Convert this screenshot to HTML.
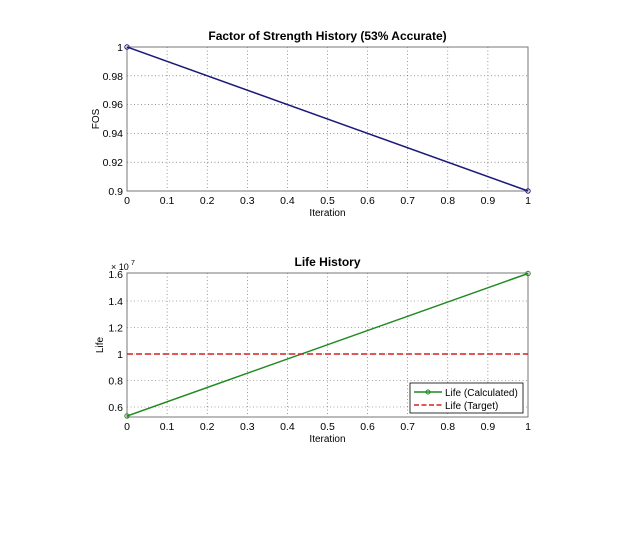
<!DOCTYPE html>
<html><head><style>
body{margin:0;background:#fff;}
svg text{font-family:"Liberation Sans",Arial,sans-serif;}
</style></head><body>
<svg width="636" height="549" viewBox="0 0 636 549" xmlns="http://www.w3.org/2000/svg">
<rect width="636" height="549" fill="#fff"/>
<!-- Top plot -->
<g font-size="10.5" fill="#000">
<g stroke="#555" stroke-width="0.6" stroke-dasharray="1,2.5">
<line x1="167.1" y1="47" x2="167.1" y2="191"/><line x1="207.2" y1="47" x2="207.2" y2="191"/>
<line x1="247.3" y1="47" x2="247.3" y2="191"/><line x1="287.4" y1="47" x2="287.4" y2="191"/>
<line x1="327.5" y1="47" x2="327.5" y2="191"/><line x1="367.6" y1="47" x2="367.6" y2="191"/>
<line x1="407.7" y1="47" x2="407.7" y2="191"/><line x1="447.8" y1="47" x2="447.8" y2="191"/>
<line x1="487.9" y1="47" x2="487.9" y2="191"/>
<line x1="127" y1="75.8" x2="528" y2="75.8"/><line x1="127" y1="104.6" x2="528" y2="104.6"/>
<line x1="127" y1="133.4" x2="528" y2="133.4"/><line x1="127" y1="162.2" x2="528" y2="162.2"/>
</g>
<rect x="127" y="47" width="401" height="144" fill="none" stroke="#777" stroke-width="1"/>
<line x1="127" y1="47" x2="528" y2="191" stroke="#1a1a7a" stroke-width="1.5"/>
<circle cx="127" cy="47" r="2.2" fill="none" stroke="#1a1a7a"/>
<circle cx="528" cy="191" r="2.2" fill="none" stroke="#1a1a7a"/>
<g text-anchor="end">
<text x="123" y="51">1</text><text x="123" y="80">0.98</text><text x="123" y="108">0.96</text>
<text x="123" y="137">0.94</text><text x="123" y="166">0.92</text><text x="123" y="195">0.9</text>
</g>
<g text-anchor="middle">
<text x="127" y="204">0</text><text x="167.1" y="204">0.1</text><text x="207.2" y="204">0.2</text>
<text x="247.3" y="204">0.3</text><text x="287.4" y="204">0.4</text><text x="327.5" y="204">0.5</text>
<text x="367.6" y="204">0.6</text><text x="407.7" y="204">0.7</text><text x="447.8" y="204">0.8</text>
<text x="487.9" y="204">0.9</text><text x="528" y="204">1</text>
<text x="327.5" y="216" font-size="10">Iteration</text>
<text x="327.5" y="40" font-size="12" font-weight="bold">Factor of Strength History (53% Accurate)</text>
</g>
<text transform="translate(99,119) rotate(-90)" text-anchor="middle" font-size="10">FOS</text>
</g>
<!-- Bottom plot -->
<g font-size="10.5" fill="#000">
<g stroke="#555" stroke-width="0.6" stroke-dasharray="1,2.5">
<line x1="167.1" y1="273" x2="167.1" y2="417"/><line x1="207.2" y1="273" x2="207.2" y2="417"/>
<line x1="247.3" y1="273" x2="247.3" y2="417"/><line x1="287.4" y1="273" x2="287.4" y2="417"/>
<line x1="327.5" y1="273" x2="327.5" y2="417"/><line x1="367.6" y1="273" x2="367.6" y2="417"/>
<line x1="407.7" y1="273" x2="407.7" y2="417"/><line x1="447.8" y1="273" x2="447.8" y2="417"/>
<line x1="487.9" y1="273" x2="487.9" y2="417"/>
<line x1="127" y1="407" x2="528" y2="407"/><line x1="127" y1="380.5" x2="528" y2="380.5"/>
<line x1="127" y1="354" x2="528" y2="354"/><line x1="127" y1="327.5" x2="528" y2="327.5"/>
<line x1="127" y1="301" x2="528" y2="301"/>
</g>
<rect x="127" y="273" width="401" height="144" fill="none" stroke="#777" stroke-width="1"/>
<line x1="127" y1="416" x2="528" y2="273.5" stroke="#1f8a1f" stroke-width="1.5"/>
<circle cx="127" cy="416" r="2.2" fill="none" stroke="#1f8a1f"/>
<circle cx="528" cy="273.5" r="2.2" fill="none" stroke="#1f8a1f"/>
<line x1="127" y1="354" x2="528" y2="354" stroke="#d42020" stroke-width="1.5" stroke-dasharray="6,3"/>
<g text-anchor="end">
<text x="123" y="411">0.6</text><text x="123" y="384.5">0.8</text><text x="123" y="358">1</text>
<text x="123" y="331.5">1.2</text><text x="123" y="305">1.4</text><text x="123" y="278">1.6</text>
</g>
<text x="111" y="270" font-size="9">× 10</text><text x="131" y="265" font-size="7">7</text>
<g text-anchor="middle">
<text x="127" y="430">0</text><text x="167.1" y="430">0.1</text><text x="207.2" y="430">0.2</text>
<text x="247.3" y="430">0.3</text><text x="287.4" y="430">0.4</text><text x="327.5" y="430">0.5</text>
<text x="367.6" y="430">0.6</text><text x="407.7" y="430">0.7</text><text x="447.8" y="430">0.8</text>
<text x="487.9" y="430">0.9</text><text x="528" y="430">1</text>
<text x="327.5" y="442" font-size="10">Iteration</text>
<text x="327.5" y="266" font-size="12" font-weight="bold">Life History</text>
</g>
<text transform="translate(103,345) rotate(-90)" text-anchor="middle" font-size="10">Life</text>
<rect x="410" y="383" width="113" height="30" fill="#fff" stroke="#000" stroke-width="0.8"/>
<line x1="414" y1="392" x2="442" y2="392" stroke="#1f8a1f" stroke-width="1.5"/>
<circle cx="428" cy="392" r="2" fill="none" stroke="#1f8a1f"/>
<line x1="414" y1="405" x2="442" y2="405" stroke="#d42020" stroke-width="1.5" stroke-dasharray="5,2.5"/>
<text x="445" y="396" font-size="10">Life (Calculated)</text>
<text x="445" y="409" font-size="10">Life (Target)</text>
</g>
</svg>
</body></html>
